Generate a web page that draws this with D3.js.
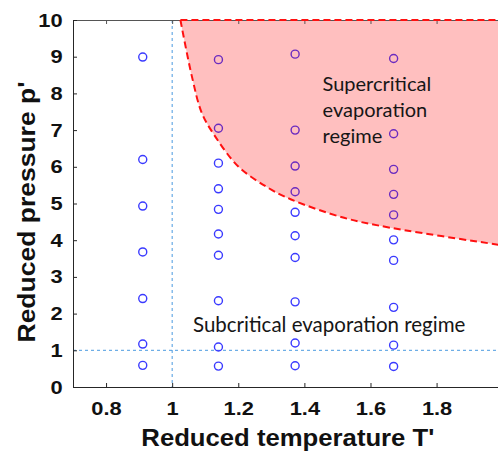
<!DOCTYPE html>
<html>
<head>
<meta charset="utf-8">
<script src="https://cdn.jsdelivr.net/npm/d3@7"></script>
<style>
  body { margin: 0; background: #fff; }
  svg { display: block; }
</style>
</head>
<body>
<div id="chart"></div>
<script>
// Data
const tempColumns = [0.911, 1.14, 1.372, 1.67]
const pressureCol1 = [8.99, 6.2, 4.93, 3.68, 2.41, 1.17, 0.59]
const pressureCol2 = [8.92, 7.05, 6.1, 5.4, 4.84, 4.17, 3.59, 2.35, 1.09, 0.57]
const pressureCol3 = [9.07, 7.0, 6.02, 5.32, 4.76, 4.12, 3.53, 2.32, 1.2, 0.58]
const pressureCol4 = [8.95, 6.9, 5.93, 5.25, 4.69, 4.01, 3.45, 2.17, 1.14, 0.56]
const pressureCols = [pressureCol1, pressureCol2, pressureCol3, pressureCol4]

// supercritical boundary (T', p')
const boundaryT = [1.025, 1.06, 1.09, 1.13, 1.2, 1.29, 1.36, 1.52, 1.66, 2.0]
const boundaryP = [10, 8.45, 7.46, 6.83, 6.01, 5.43, 5.11, 4.61, 4.34, 3.86]

const xTicks = [0.8, 1, 1.2, 1.4, 1.6, 1.8]
const yTicks = [0, 1, 2, 3, 4, 5, 6, 7, 8, 9, 10]
const criticalT = 1
const criticalP = 1

function draw() {
  const dimensions = {
    width: 498,
    height: 452,
    left: 73,
    right: 502.7,
    top: 20,
    bottom: 387,
  }

  const svg = d3.select('#chart')
    .append('svg')
    .attr('width', dimensions.width)
    .attr('height', dimensions.height)
    .style('font-family', '"Liberation Sans", Arial, sans-serif')

  // Scales
  const xScale = d3.scaleLinear()
    .domain([0.7, 2.0])
    .range([dimensions.left, dimensions.right])

  const yScale = d3.scaleLinear()
    .domain([0, 10])
    .range([dimensions.bottom, dimensions.top])

  // reference lines at T'=1 and p'=1
  svg.append('line')
    .attr('x1', xScale(criticalT)).attr('x2', xScale(criticalT))
    .attr('y1', yScale(10)).attr('y2', yScale(0))
    .attr('stroke', '#4a9ae0').attr('stroke-width', 1)
    .attr('stroke-dasharray', '3,3')

  svg.append('line')
    .attr('x1', xScale(0.7)).attr('x2', xScale(2.0))
    .attr('y1', yScale(criticalP)).attr('y2', yScale(criticalP))
    .attr('stroke', '#4a9ae0').attr('stroke-width', 1)
    .attr('stroke-dasharray', '3,3')

  // points
  const points = tempColumns.flatMap((t, i) => pressureCols[i].map(p => ({ t, p })))

  svg.append('g')
    .selectAll('circle')
    .data(points)
    .join('circle')
    .attr('cx', d => xScale(d.t))
    .attr('cy', d => yScale(d.p))
    .attr('r', 4)
    .attr('fill', 'none')
    .attr('stroke', '#3a3aff')
    .attr('stroke-width', 1.4)

  // supercritical region
  const boundary = boundaryT.map((t, i) => ({ t, p: boundaryP[i] }))

  const area = d3.area()
    .x(d => xScale(d.t))
    .y0(yScale(10))
    .y1(d => yScale(d.p))
    .curve(d3.curveCatmullRom)

  svg.append('path')
    .datum(boundary)
    .attr('d', area)
    .attr('fill', '#ff0000')
    .attr('fill-opacity', 0.25)

  // Axes
  const xAxis = d3.axisBottom(xScale)
    .tickValues(xTicks)
    .tickFormat(d => String(d))
    .tickSize(-4)
    .tickPadding(15)
    .tickSizeOuter(0)

  const yAxis = d3.axisLeft(yScale)
    .tickValues(yTicks)
    .tickSize(-4)
    .tickPadding(10)
    .tickSizeOuter(0)

  const topAxis = d3.axisTop(xScale)
    .tickValues(xTicks)
    .tickFormat('')
    .tickSize(-4)
    .tickSizeOuter(0)

  svg.append('g')
    .attr('transform', `translate(0, ${dimensions.top})`)
    .call(topAxis)
    .call(g => g.selectAll('path, line').attr('stroke', '#555'))

  const xg = svg.append('g')
    .attr('transform', `translate(0, ${dimensions.bottom})`)
    .call(xAxis)

  const yg = svg.append('g')
    .attr('transform', `translate(${dimensions.left}, 0)`)
    .call(yAxis)

  ;[xg, yg].forEach(g => {
    g.selectAll('path, line').attr('stroke', '#262626')
    g.selectAll('text')
      .attr('fill', '#111')
      .style('font-size', '19px')
      .style('font-weight', 'bold')
      .style('font-family', '"Liberation Sans", Arial, sans-serif')
  })
  xg.selectAll('text').attr('transform', 'scale(1.15,1)')
  yg.selectAll('text').attr('transform', 'scale(1.15,1)').attr('x', -9)

  // red dashed boundary
  const line = d3.line()
    .x(d => xScale(d.t))
    .y(d => yScale(d.p))
    .curve(d3.curveCatmullRom)

  svg.append('path')
    .datum(boundary)
    .attr('d', line)
    .attr('fill', 'none')
    .attr('stroke', '#ff1010')
    .attr('stroke-width', 2)
    .attr('stroke-dasharray', '7,4')

  svg.append('line')
    .attr('x1', xScale(boundaryT[0])).attr('x2', xScale(2.0))
    .attr('y1', yScale(10)).attr('y2', yScale(10))
    .attr('stroke', '#ff1010')
    .attr('stroke-width', 2)
    .attr('stroke-dasharray', '7,4')

  // Region labels
  const superLabel = svg.append('text')
    .attr('y', yScale(8.06))
    .attr('fill', '#161616')
    .style('font-family', 'Lato, "Noto Sans", sans-serif')
    .style('font-size', '20px')

  ;['Supercritical', 'evaporation', 'regime'].forEach((s, i) => {
    superLabel.append('tspan')
      .attr('x', xScale(1.455))
      .attr('dy', i === 0 ? 0 : 26)
      .text(s)
  })

  svg.append('text')
    .attr('x', xScale(1.063))
    .attr('y', yScale(1.51))
    .attr('fill', '#161616')
    .style('font-family', 'Lato, "Noto Sans", sans-serif')
    .style('font-size', '20.5px')
    .text('Subcritical evaporation regime')

  // Axis titles
  svg.append('text')
    .attr('x', (dimensions.left + dimensions.right) / 2)
    .attr('y', 446)
    .attr('text-anchor', 'middle')
    .attr('fill', '#111')
    .style('font-size', '23px')
    .style('font-weight', 'bold')
    .attr('textLength', 293)
    .attr('lengthAdjust', 'spacingAndGlyphs')
    .text("Reduced temperature T'")

  svg.append('text')
    .attr('transform', 'translate(35, 212) rotate(-90)')
    .attr('text-anchor', 'middle')
    .attr('fill', '#111')
    .style('font-size', '23px')
    .style('font-weight', 'bold')
    .attr('textLength', 261)
    .attr('lengthAdjust', 'spacingAndGlyphs')
    .text("Reduced pressure p'")
}

draw()
</script>
</body>
</html>
